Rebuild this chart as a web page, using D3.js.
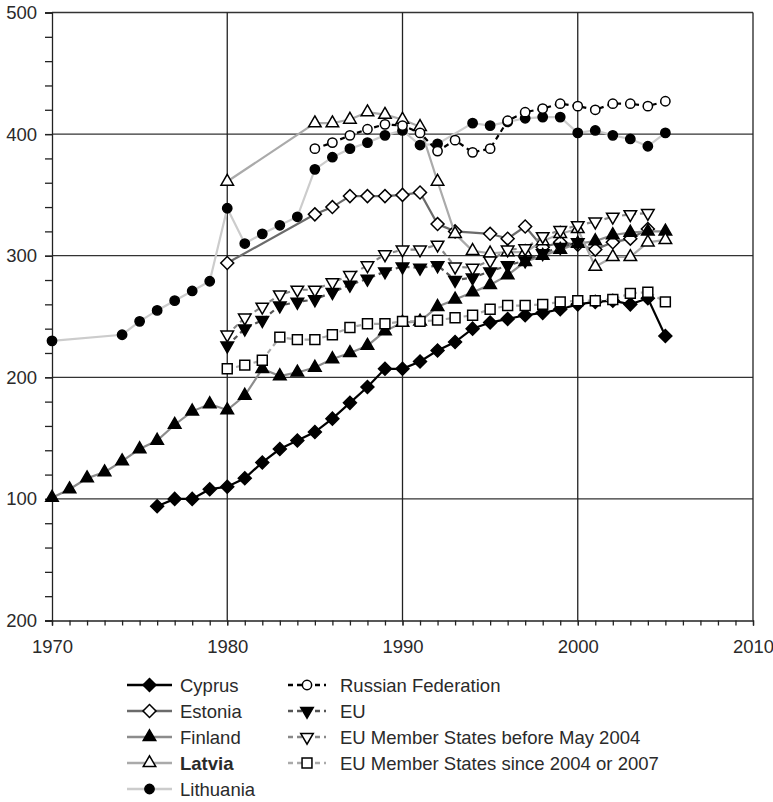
<!DOCTYPE html>
<html>
<head>
<meta charset="utf-8">
<script src="https://cdn.jsdelivr.net/npm/d3@7"></script>
<style>
  body { margin: 0; background: #fff; }
  svg text { font-family: "Liberation Sans", Arial, sans-serif; fill: #2a2a2a; }
</style>
</head>
<body>
<svg id="chart" width="773" height="802"></svg>
<script>
// tick labels (the bottom one reads "200" in the source picture)
var yTickLabels = ["200", "100", "200", "300", "400", "500"];
var yTickValues = [0, 100, 200, 300, 400, 500];
var xTickValues = [1970, 1980, 1990, 2000, 2010];

var cyprusYears = d3.range(1976, 2006);
var cyprusValues = [94, 100, 100, 108, 110, 117, 130, 141, 148, 155, 166, 179, 192, 207, 207,
    213, 222, 229, 240, 245, 248, 251, 253, 256, 260, 262, 263, 260, 265, 234];

var estoniaYears = [1980, 1985, 1986, 1987, 1988, 1989, 1990, 1991, 1992, 1993, 1995, 1996, 1997, 1998, 1999, 2000, 2001, 2002, 2003, 2004];
var estoniaValues = [294, 334, 340, 349, 349, 349, 350, 352, 326, 320, 318, 314, 324, 307, 311, 309, 305, 311, 314, 322];

var finlandYears = d3.range(1970, 2006);
var finlandValues = [101, 108, 117, 122, 131, 141, 148, 161, 172, 178, 173, 185, 207, 201, 204, 208, 215, 220,
    226, 238, 245, 246, 258, 264, 270, 276, 284, 295, 300, 305, 310, 312, 317, 319, 320, 320];

var latviaYears = [1980].concat(d3.range(1985, 2006));
var latviaValues = [361, 409, 409, 412, 418, 416, 412, 406, 361, 318, 304, 302, 303, 303, 312, 318, 322, 291, 299, 299, 311, 313];

var lithuaniaYears = [1970, 1974, 1975, 1976, 1977, 1978, 1979].concat(d3.range(1980, 1993), d3.range(1994, 2006));
var lithuaniaValues = [230, 235, 246, 255, 263, 271, 279,
    339, 310, 318, 325, 332, 371, 381, 388, 393, 399, 403, 391, 392,
    409, 407, 410, 413, 414, 414, 401, 403, 399, 396, 390, 401];

var russiaYears = d3.range(1985, 2006);
var russiaValues = [388, 393, 399, 404, 408, 407, 401, 386, 395, 385, 388, 411, 418, 421, 425, 423, 420, 425, 425, 423, 427];

var euYears = d3.range(1980, 2001);
var euValues = [226, 240, 247, 259, 262, 264, 270, 276, 281, 287, 291, 290, 292, 280, 282, 287, 292, 296, 302, 307, 311];

var euBeforeYears = d3.range(1980, 2005);
var euBeforeValues = [235, 249, 258, 268, 272, 272, 278, 284, 292, 301, 305, 305, 309, 291, 290, 296, 305, 306, 316, 321, 325, 328, 332, 334, 335];

var euSinceYears = d3.range(1980, 2006);
var euSinceValues = [207, 210, 214, 233, 231, 231, 235, 241, 244, 244, 246, 246, 247, 249, 251, 256, 259, 259, 260, 262, 263, 263, 264, 269, 270, 262];

var seriesNames = ["Cyprus", "Estonia", "Finland", "Latvia", "Lithuania",
    "Russian Federation", "EU", "EU Member States before May 2004", "EU Member States since 2004 or 2007"];

function zip(years, values) {
    return years.map(function (y, i) { return { x: y, y: values[i] }; });
}

var series = [
    { name: seriesNames[0], data: zip(cyprusYears, cyprusValues), color: "#000", dash: null, shape: "diamond", fill: "#000" },
    { name: seriesNames[1], data: zip(estoniaYears, estoniaValues), color: "#6b6b6b", dash: null, shape: "diamond", fill: "#fff" },
    { name: seriesNames[2], data: zip(finlandYears, finlandValues), color: "#8c8c8c", dash: null, shape: "up", fill: "#000" },
    { name: seriesNames[3], data: zip(latviaYears, latviaValues), color: "#aaaaaa", dash: null, shape: "up", fill: "#fff", bold: true },
    { name: seriesNames[4], data: zip(lithuaniaYears, lithuaniaValues), color: "#cccccc", dash: null, shape: "circle", fill: "#000" },
    { name: seriesNames[5], data: zip(russiaYears, russiaValues), color: "#000", dash: "5,4", shape: "circle", fill: "#fff" },
    { name: seriesNames[6], data: zip(euYears, euValues), color: "#555", dash: "5,4", shape: "down", fill: "#000" },
    { name: seriesNames[7], data: zip(euBeforeYears, euBeforeValues), color: "#888", dash: "5,4", shape: "down", fill: "#fff" },
    { name: seriesNames[8], data: zip(euSinceYears, euSinceValues), color: "#aaa", dash: "5,4", shape: "square", fill: "#fff" }
];

var svg = d3.select("#chart");

var x = d3.scaleLinear().domain([1970, 2010]).range([52, 753]);
var y = d3.scaleLinear().domain([0, 500]).range([620.5, 12.5]);

// grid
var grid = svg.append("g");
grid.selectAll("line.h").data([100, 200, 300, 400, 500]).enter().append("line")
    .attr("x1", x(1970)).attr("x2", x(2010))
    .attr("y1", function (d) { return y(d); }).attr("y2", function (d) { return y(d); })
    .attr("stroke", "#333").attr("stroke-width", 1.3);
grid.selectAll("line.v").data([1980, 1990, 2000, 2010]).enter().append("line")
    .attr("x1", function (d) { return x(d); }).attr("x2", function (d) { return x(d); })
    .attr("y1", y(0)).attr("y2", y(500))
    .attr("stroke", "#222").attr("stroke-width", 1.3);

// axes
var yAxisMinor = d3.axisLeft(y).tickValues(d3.range(0, 501, 20)).tickSize(7).tickFormat("");
svg.append("g").attr("transform", "translate(" + x(1970) + ",0)").call(yAxisMinor)
    .call(function (g) { g.selectAll("line, path").attr("stroke", "#222").attr("stroke-width", 1.3); });

var yAxis = d3.axisLeft(y).tickValues(yTickValues).tickSize(7)
    .tickFormat(function (d, i) { return yTickLabels[i]; });
svg.append("g").attr("transform", "translate(" + x(1970) + ",0)").call(yAxis)
    .call(function (g) {
        g.select(".domain").remove();
        g.selectAll("line").attr("stroke", "#222").attr("stroke-width", 1.3);
        g.selectAll("text").attr("font-size", 18.5).attr("x", -15).attr("fill", "#2a2a2a")
            .style("font-family", "Liberation Sans, Arial, sans-serif");
    });

var xAxisMinor = d3.axisBottom(x).tickValues(d3.range(1970, 2011)).tickSize(5).tickFormat("");
svg.append("g").attr("transform", "translate(0," + y(0) + ")").call(xAxisMinor)
    .call(function (g) { g.selectAll("line, path").attr("stroke", "#222").attr("stroke-width", 1.3); });

var xAxis = d3.axisBottom(x).tickValues(xTickValues).tickSize(5).tickFormat(d3.format("d"));
svg.append("g").attr("transform", "translate(0," + y(0) + ")").call(xAxis)
    .call(function (g) {
        g.select(".domain").remove();
        g.selectAll("line").attr("stroke", "#222");
        g.selectAll("text").attr("font-size", 18.5).attr("y", 19).attr("fill", "#2a2a2a")
            .style("font-family", "Liberation Sans, Arial, sans-serif");
    });

// markers
function symbolFor(shape) {
    if (shape === "diamond") return d3.symbol().type(d3.symbolSquare).size(84)();
    if (shape === "up" || shape === "down") return d3.symbol().type(d3.symbolTriangle).size(68)();
    if (shape === "circle") return d3.symbol().type(d3.symbolCircle).size(68)();
    return d3.symbol().type(d3.symbolSquare).size(98)();
}
function rotFor(shape) {
    if (shape === "diamond") return " rotate(45)";
    if (shape === "down") return " rotate(180)";
    return "";
}

var line = d3.line().x(function (d) { return x(d.x); }).y(function (d) { return y(d.y); });

series.forEach(function (s) {
    var g = svg.append("g");
    g.append("path").datum(s.data)
        .attr("d", line)
        .attr("fill", "none")
        .attr("stroke", s.color)
        .attr("stroke-width", 2.2)
        .attr("stroke-dasharray", s.dash);
    g.selectAll("path.m").data(s.data).enter().append("path")
        .attr("class", "m")
        .attr("d", symbolFor(s.shape))
        .attr("transform", function (d) { return "translate(" + x(d.x) + "," + y(d.y) + ")" + rotFor(s.shape); })
        .attr("fill", s.fill)
        .attr("stroke", "#000")
        .attr("stroke-width", 1.5);
});

// legend
var legend = svg.append("g");
series.forEach(function (s, i) {
    var col = i < 5 ? 0 : 1;
    var row = i < 5 ? i : i - 5;
    var lx = col === 0 ? 127 : 288;
    var lw = col === 0 ? 45 : 38;
    var ly = 685 + row * 26;
    var g = legend.append("g");
    g.append("line")
        .attr("x1", lx).attr("x2", lx + lw)
        .attr("y1", ly).attr("y2", ly)
        .attr("stroke", s.color).attr("stroke-width", 2.5)
        .attr("stroke-dasharray", s.dash);
    g.append("path")
        .attr("d", symbolFor(s.shape))
        .attr("transform", "translate(" + (lx + lw / 2) + "," + ly + ")" + rotFor(s.shape))
        .attr("fill", s.fill).attr("stroke", "#000").attr("stroke-width", 1.5);
    g.append("text")
        .attr("x", col === 0 ? 180 : 340)
        .attr("y", ly)
        .attr("dy", "0.36em")
        .attr("font-size", 18.5)
        .attr("font-weight", s.bold ? "bold" : "normal")
        .text(s.name);
});
</script>
</body>
</html>
